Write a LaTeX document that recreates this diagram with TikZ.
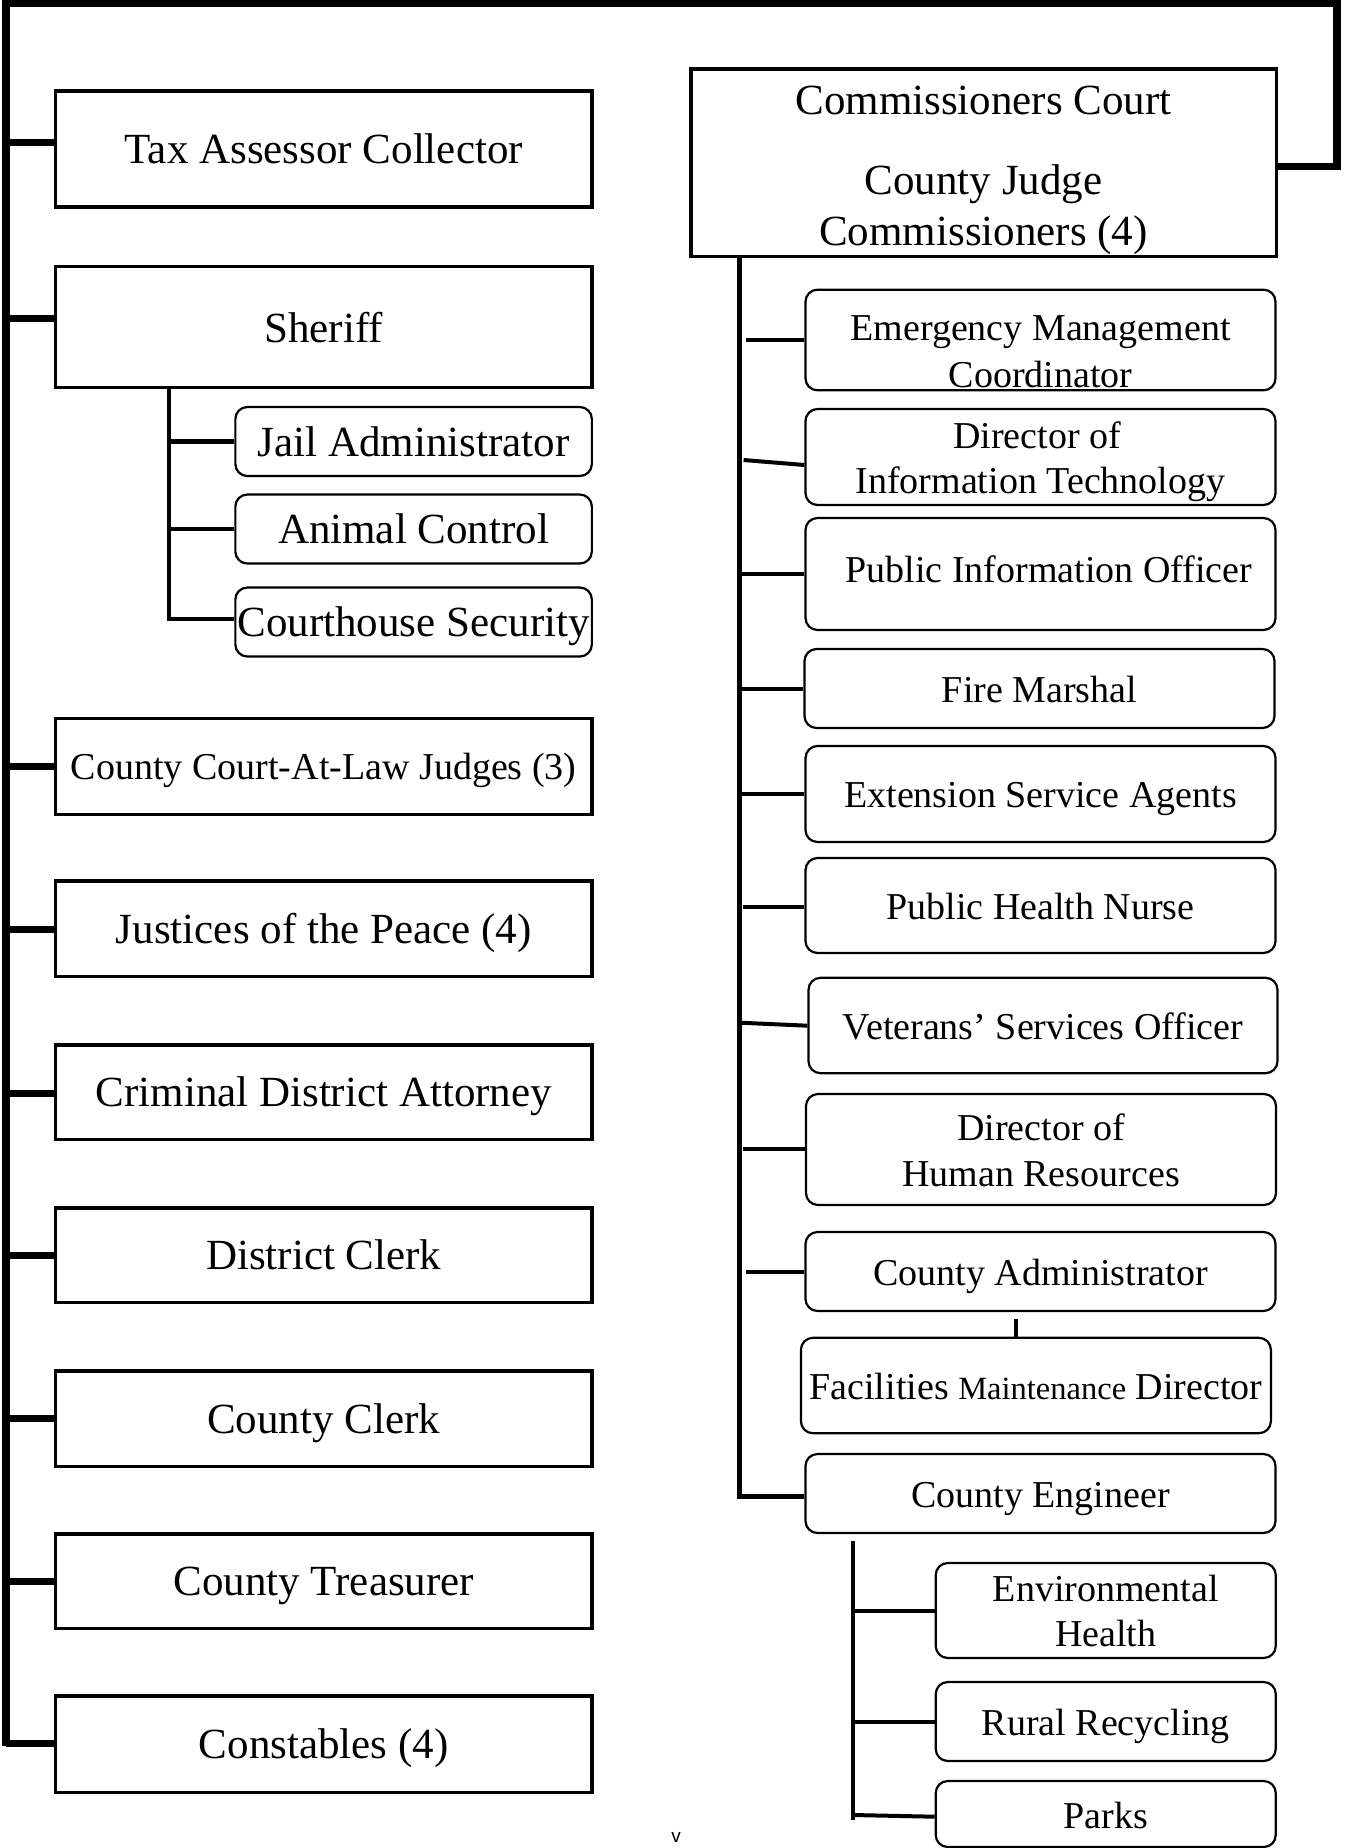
\documentclass[tikz,border=0pt]{standalone}
\usepackage{fontspec}
\setmainfont{Liberation Serif}
\newfontfamily\vfont{Liberation Sans}
\begin{document}
\begin{tikzpicture}[x=1pt,y=-1pt,
  lbox/.style={draw, line width=3.5pt, minimum width=536.5pt, inner sep=0pt,
    font=\fontsize{43}{48}\selectfont, text height=29pt, text depth=0pt},
  sbox/.style={draw, line width=2.2pt, rounded corners=12pt, minimum width=356.5pt,
    minimum height=69pt, inner sep=0pt, font=\fontsize{43}{48}\selectfont,
    text height=29pt, text depth=0pt},
  rbox/.style={draw, line width=2.2pt, rounded corners=12pt, minimum width=470pt,
    inner sep=0pt, font=\fontsize{38}{42}\selectfont, text height=27pt, text depth=0pt},
  cbox/.style={draw, line width=3.5pt, minimum width=585.5pt, minimum height=187.5pt, inner sep=0pt},
  ltxt/.style={anchor=base, inner sep=0pt, font=\fontsize{43}{48}\selectfont},
  rtxt/.style={anchor=base, inner sep=0pt, font=\fontsize{38}{42}\selectfont},
  frame/.style={line width=7.5pt, line join=miter},
  lconn/.style={line width=7pt},
  sconn/.style={line width=4.3pt},
  rconn/.style={line width=4pt},
  rtrunk/.style={line width=4.5pt},
]
\useasboundingbox (0,0) rectangle (1345,1848);
\clip (0,0) rectangle (1345,1848);

% ---------------- left column ----------------
\node[lbox, minimum height=115.7pt] (tax) at (323.75,148.9) {Tax Assessor Collector};
\node[lbox, minimum height=120.6pt, text height=31pt] (sheriff) at (323.75,327) {Sheriff};
\node[lbox, minimum height=95.6pt, font=\fontsize{38}{42}\selectfont, text height=26pt] (ccal) at (323.75,766.5) {County Court-At-Law Judges (3)};
\node[lbox, minimum height=95.5pt] (jp) at (323.75,928.5) {Justices of the Peace (4)};
\node[lbox, minimum height=94.5pt] (cda) at (323.75,1092) {Criminal District Attorney};
\node[lbox, minimum height=94.5pt] (dc) at (323.75,1255) {District Clerk};
\node[lbox, minimum height=95.5pt] (cc) at (323.75,1418.5) {County Clerk};
\node[lbox, minimum height=94.5pt] (ct) at (323.75,1581) {County Treasurer};
\node[lbox, minimum height=96.5pt] (const) at (323.75,1744) {Constables (4)};

\node[sbox] (jail) at (413.6,441.5) {Jail Administrator};
\node[sbox] (animal) at (413.6,529) {Animal Control};
\node[sbox] (chs) at (413.6,622) {Courthouse Security};

% ---------------- commissioners court ----------------
\node[cbox] (comm) at (983.5,162.5) {};
\node[ltxt] (commA) at (983.5,114) {Commissioners Court};
\node[ltxt] (commB) at (983.5,194) {County Judge};
\node[ltxt] (commC) at (983.5,245) {Commissioners (4)};

% ---------------- right column ----------------
\node[rbox, minimum height=100.6pt] (em) at (1040.5,340) {};
\node[rtxt] (emA) at (1040.5,340) {Emergency Management};
\node[rtxt] (emB) at (1040.5,387) {Coordinator};

\node[rbox, minimum height=96pt] (dit) at (1040.5,457) {};
\node[rtxt] (ditA) at (1037,448) {Director of};
\node[rtxt] (ditB) at (1040.5,493) {Information Technology};

\node[rbox, minimum height=112pt, text height=16pt] (pio) at (1040.5,574) {\hspace{17pt}Public Information Officer};
\node[rbox, minimum height=79pt] (fm) at (1039.5,688.5) {Fire Marshal};
\node[rbox, minimum height=96pt] (esa) at (1040.5,794) {Extension Service Agents};
\node[rbox, minimum height=95pt] (phn) at (1040.5,905.5) {Public Health Nurse};
\node[rbox, minimum height=95.4pt, minimum width=469pt] (vso) at (1043,1025.5) {Veterans’ Services Officer};

\node[rbox, minimum height=111pt] (dhr) at (1041,1149.5) {};
\node[rtxt] (dhrA) at (1041,1140.6) {Director of};
\node[rtxt] (dhrB) at (1041,1186.6) {Human Resources};

\node[rbox, minimum height=79pt] (ca) at (1040.5,1271.5) {County Administrator};
\node[rbox, minimum height=95.4pt, text height=28pt] (fmd) at (1035.9,1385.5) {Facilities {\fontsize{32.5}{35}\selectfont Maintenance} Director};
\node[rbox, minimum height=79pt] (ce) at (1040.5,1493.5) {County Engineer};

\node[rbox, minimum height=95pt, minimum width=340pt] (envh) at (1105.75,1610.5) {};
\node[rtxt] (envhA) at (1105.75,1601) {Environmental};
\node[rtxt] (envhB) at (1105.75,1646) {Health};
\node[rbox, minimum height=79pt, minimum width=340pt] (rr) at (1105.75,1721.5) {Rural Recycling};
\node[rbox, minimum height=66pt, minimum width=340pt, text height=28pt] (parks) at (1105.75,1814) {Parks};

\node[anchor=base, inner sep=0pt, font=\vfont\fontsize{19}{20}\selectfont] (vmark) at (676,1842) {v};

% ---------------- outer frame ----------------
\coordinate (cj) at (1337,166.7);
\coordinate (rt) at (1337,3);
\coordinate (lt) at (6,3);
\coordinate (lb) at (6,1745.6);
\draw[frame] (comm.east |- cj) -- (cj) -- (rt) -- (lt) -- (lb);

% left connectors
\coordinate (l1) at (6,142.4);
\coordinate (l2) at (6,318.5);
\coordinate (l3) at (6,766.7);
\coordinate (l4) at (6,929);
\coordinate (l5) at (6,1093);
\coordinate (l6) at (6,1255);
\coordinate (l7) at (6,1418);
\coordinate (l8) at (6,1581);
\coordinate (l9) at (6,1743);
\draw[lconn] (l1) -- (tax.west |- l1);
\draw[lconn] (l2) -- (sheriff.west |- l2);
\draw[lconn] (l3) -- (ccal.west |- l3);
\draw[lconn] (l4) -- (jp.west |- l4);
\draw[lconn] (l5) -- (cda.west |- l5);
\draw[lconn] (l6) -- (dc.west |- l6);
\draw[lconn] (l7) -- (cc.west |- l7);
\draw[lconn] (l8) -- (ct.west |- l8);
\draw[lconn] (l9) -- (const.west |- l9);

% sheriff subordinates
\coordinate (sv) at (169,619);
\draw[sconn] (sheriff.south -| sv) -- (sv) -- (chs.west |- sv);
\draw[sconn] (jail.west -| sv) -- (jail.west);
\draw[sconn] (animal.west -| sv) -- (animal.west);

% right trunk
\coordinate (rtb) at (739.5,1496.3);
\draw[rtrunk] (comm.south -| rtb) -- (rtb) -- (ce.west |- rtb);

\coordinate (e0) at (746,340);
\draw[rconn] (e0) -- (em.west |- e0);
\coordinate (d0) at (743.6,460);
\coordinate (d1) at (0,465);
\draw[rconn] (d0) -- (dit.west |- d1);
\draw[rconn] (pio.west -| rtb) -- (pio.west);
\draw[rconn] (fm.west -| rtb) -- (fm.west);
\draw[rconn] (esa.west -| rtb) -- (esa.west);
\coordinate (p0) at (743.3,906.7);
\draw[rconn] (p0) -- (phn.west |- p0);
\coordinate (v0) at (740,1022.7);
\coordinate (v1) at (0,1025.7);
\draw[rconn] (v0) -- (vso.west |- v1);
\coordinate (h0) at (742.7,1149.3);
\draw[rconn] (h0) -- (dhr.west |- h0);
\coordinate (a0) at (745.7,1272.3);
\draw[rconn] (a0) -- (ca.west |- a0);

% tick between administrator and facilities
\coordinate (tk) at (1016,1319.3);
\draw[line width=4pt] (tk) -- (fmd.north -| tk);

% engineer subordinates
\coordinate (st0) at (853,1541);
\coordinate (st1) at (853,1820);
\draw[rtrunk] (st0) -- (st1);
\draw[rconn] (envh.west -| st0) -- (envh.west);
\draw[rconn] (rr.west -| st0) -- (rr.west);
\coordinate (k0) at (853,1815);
\coordinate (k1) at (0,1816.7);
\draw[rconn] (k0) -- (parks.west |- k1);
\end{tikzpicture}
\end{document}
